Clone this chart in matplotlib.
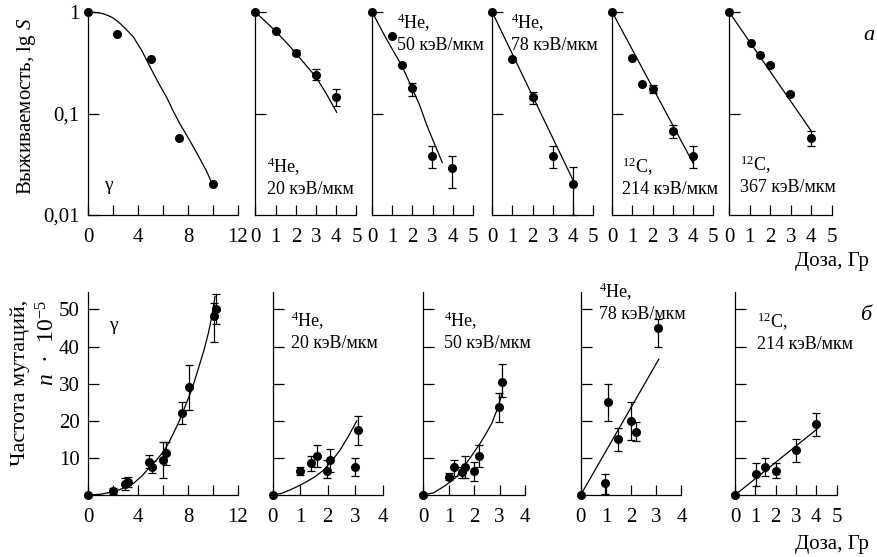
import matplotlib.pyplot as plt
import numpy as np

plt.rcParams['font.family'] = ['Liberation Serif', 'DejaVu Serif']
plt.rcParams['mathtext.fontset'] = 'custom'
plt.rcParams['mathtext.rm'] = 'Liberation Serif'
plt.rcParams['mathtext.it'] = 'Liberation Serif:italic'

nan = np.nan

# ---- top row: survival (lg S) vs dose ----
s_gamma_x = [0, 2.3, 5.0, 7.3, 10.0]
s_gamma_y = [1, 0.615, 0.343, 0.058, 0.020]
s_gamma_lo = [nan] * 5
s_gamma_hi = [nan] * 5
s_gamma_fx = [0, 0.4, 0.8, 1.2, 1.6, 2.0, 2.5, 3.0, 3.63, 4.3, 4.96, 5.6, 6.29, 6.8, 7.36, 7.9, 8.43, 9.0, 9.49, 10.03]
s_gamma_fy = [1, 0.999, 0.99, 0.97, 0.93, 0.88, 0.79, 0.69, 0.57, 0.42, 0.29, 0.205, 0.145, 0.107, 0.079, 0.061, 0.047, 0.035, 0.027, 0.019]

s_he20_x = [0, 1, 2, 3, 4]
s_he20_y = [1, 0.65, 0.395, 0.243, 0.147]
s_he20_lo = [nan, nan, 0.375, 0.217, 0.118]
s_he20_hi = [nan, nan, 0.42, 0.277, 0.176]
s_he20_fx = [0, 0.5, 1, 1.5, 2, 2.5, 3, 3.5, 4.02]
s_he20_fy = [1, 0.81, 0.65, 0.51, 0.395, 0.30, 0.229, 0.158, 0.103]

s_he50_x = [0, 1.0, 1.46, 1.96, 2.95, 3.98]
s_he50_y = [1, 0.59, 0.30, 0.179, 0.038, 0.029]
s_he50_lo = [nan, nan, nan, 0.148, 0.029, 0.0185]
s_he50_hi = [nan, nan, nan, 0.201, 0.048, 0.038]
s_he50_fx = [0, 0.3, 0.63, 1.0, 1.46, 1.96, 2.35, 2.72, 3.1, 3.48]
s_he50_fy = [1, 0.77, 0.58, 0.43, 0.299, 0.182, 0.122, 0.076, 0.05, 0.033]

s_he78_x = [0, 1, 2, 3, 4]
s_he78_y = [1, 0.343, 0.145, 0.038, 0.020]
s_he78_lo = [nan, nan, 0.125, 0.029, 0.0101]
s_he78_hi = [nan, nan, 0.165, 0.0475, 0.030]
s_he78_fx = [0, 4.06]
s_he78_fy = [1, 0.021]

s_c214_x = [0, 1.0, 1.49, 2.0, 3.0, 4.03]
s_c214_y = [1, 0.356, 0.197, 0.175, 0.068, 0.038]
s_c214_lo = [nan, nan, nan, 0.16, 0.058, 0.029]
s_c214_hi = [nan, nan, nan, 0.19, 0.077, 0.048]
s_c214_fx = [0, 4.03]
s_c214_fy = [1, 0.032]

s_c367_x = [0, 1.04, 1.51, 2.0, 2.96, 3.99]
s_c367_y = [1, 0.497, 0.375, 0.303, 0.157, 0.058]
s_c367_lo = [nan, nan, nan, 0.29, 0.15, 0.048]
s_c367_hi = [nan, nan, nan, 0.315, 0.165, 0.068]
s_c367_fx = [0, 3.99]
s_c367_fy = [1, 0.068]

# ---- bottom row: mutation frequency, n*1e-5 ----
m_gamma_x = [0, 2.03, 3.0, 3.2, 4.88, 5.1, 6.03, 6.25, 7.55, 8.08, 10.05, 10.27]
m_gamma_y = [0, 1.1, 3.0, 3.5, 9.0, 7.6, 9.4, 11.4, 22.0, 29.0, 48.2, 50.1]
m_gamma_lo = [nan, 0.4, 1.4, 2.2, 7.2, 5.8, 4.5, 8.1, 19.1, 22.9, 41.3, 46.0]
m_gamma_hi = [nan, 1.8, 4.6, 4.9, 10.8, 9.2, 14.4, 14.4, 25.0, 35.0, 51.7, 54.2]
m_gamma_fx = [0, 1.0, 2.03, 2.8, 3.63, 4.3, 4.96, 5.5, 6.03, 6.45, 6.83, 7.2, 7.55, 7.9, 8.29, 8.6, 8.96, 9.3, 9.63, 9.9, 10.16]
m_gamma_fy = [0, 0.2, 0.9, 1.8, 3.1, 5.1, 7.6, 9.5, 11.7, 14.0, 16.6, 19.2, 22.0, 25.0, 28.3, 31.6, 35.5, 39.3, 43.6, 48.0, 53.5]

m_he20_x = [0, 0.99, 1.38, 1.6, 1.99, 2.08, 3.0, 3.09]
m_he20_y = [0, 6.5, 8.5, 10.6, 6.6, 9.4, 7.5, 17.5]
m_he20_lo = [nan, 5.4, 6.6, 7.6, 4.5, 6.3, 5.2, 13.5]
m_he20_hi = [nan, 7.6, 10.5, 13.4, 9.4, 12.4, 10.0, 21.4]
m_he20_fx = [0, 0.3, 0.63, 0.93, 1.24, 1.55, 1.85, 2.15, 2.45, 2.75, 3.06]
m_he20_fy = [0, 0.4, 1.35, 2.4, 3.6, 5.0, 6.7, 9.2, 12.1, 15.8, 20.0]

m_he50_x = [0, 1.02, 1.21, 1.5, 1.63, 2.0, 2.2, 2.98, 3.1]
m_he50_y = [0, 4.9, 7.6, 6.1, 7.6, 6.6, 10.6, 23.6, 30.5]
m_he50_lo = [nan, 4.0, 5.0, 4.5, 4.5, 3.9, 7.6, 19.6, 26.5]
m_he50_hi = [nan, 6.0, 9.4, 7.6, 10.5, 9.0, 13.4, 27.6, 35.3]
m_he50_fx = [0, 0.4, 0.78, 1.05, 1.3, 1.5, 1.68, 1.95, 2.23, 2.45, 2.69, 2.9, 3.1]
m_he50_fy = [0, 0.6, 2.2, 3.5, 4.9, 6.6, 8.5, 11.1, 13.9, 16.4, 19.3, 23.0, 27.4]

m_he78_x = [0, 0.96, 1.07, 1.49, 2.0, 2.19, 3.07]
m_he78_y = [0, 3.1, 25.0, 15.0, 20.0, 17.1, 45.1]
m_he78_lo = [nan, 0.3, 20.0, 11.9, 14.8, 14.6, 39.9]
m_he78_hi = [nan, 5.7, 30.0, 18.0, 25.0, 19.8, 47.3]
m_he78_fx = [0, 3.1]
m_he78_fy = [0, 36.6]

m_c214_x = [0, 1.03, 1.49, 2.02, 3.0, 4.0]
m_c214_y = [0, 5.6, 7.6, 6.6, 12.1, 19.0]
m_c214_lo = [nan, 2.4, 5.0, 4.5, 9.0, 16.0]
m_c214_hi = [nan, 8.6, 10.1, 8.6, 15.0, 22.0]
m_c214_fx = [0, 4.02]
m_c214_fy = [0, 17.7]

W, H = 878, 557
fig = plt.figure(figsize=(W / 100, H / 100), dpi=100)


def px_axes(x0, x1, y0, y1):
    return fig.add_axes([x0 / W, 1 - y1 / H, (x1 - x0) / W, (y1 - y0) / H])


def ftext(x, y, s, **kw):
    fig.text(x / W, 1 - y / H, s, **kw)


def draw(ax, x, y, lo, hi, fx, fy):
    x = np.array(x); y = np.array(y); lo = np.array(lo); hi = np.array(hi)
    ok = ~np.isnan(lo)
    ax.errorbar(x[ok], y[ok], yerr=[y[ok] - lo[ok], hi[ok] - y[ok]], fmt='none',
                ecolor='black', elinewidth=0.9, capsize=3, capthick=0.9, clip_on=False)
    ax.plot(fx, fy, color='black', lw=0.9, clip_on=False)
    ax.plot(x, y, 'o', color='black', ms=5.5, clip_on=False, zorder=5)


def style(ax):
    for s in ['top', 'right']:
        ax.spines[s].set_visible(False)
    for s in ['left', 'bottom']:
        ax.spines[s].set_linewidth(0.9)
    ax.tick_params(direction='in', labelsize=15, width=0.9)
    ax.tick_params(axis='y', length=8, pad=6)
    ax.tick_params(axis='x', length=7, pad=9)
    ax.patch.set_alpha(0)


# top row
top_boxes = [(88, 238), (255.5, 356.5), (372.3, 472.8), (492.3, 593), (612.3, 713), (729.3, 831.7)]
top_data = [
    (s_gamma_x, s_gamma_y, s_gamma_lo, s_gamma_hi, s_gamma_fx, s_gamma_fy),
    (s_he20_x, s_he20_y, s_he20_lo, s_he20_hi, s_he20_fx, s_he20_fy),
    (s_he50_x, s_he50_y, s_he50_lo, s_he50_hi, s_he50_fx, s_he50_fy),
    (s_he78_x, s_he78_y, s_he78_lo, s_he78_hi, s_he78_fx, s_he78_fy),
    (s_c214_x, s_c214_y, s_c214_lo, s_c214_hi, s_c214_fx, s_c214_fy),
    (s_c367_x, s_c367_y, s_c367_lo, s_c367_hi, s_c367_fx, s_c367_fy),
]
for i, ((x0, x1), d) in enumerate(zip(top_boxes, top_data)):
    ax = px_axes(x0, x1, 12.3, 215)
    ax.set_yscale('log')
    ax.set_ylim(0.01, 1)
    ax.yaxis.set_minor_locator(plt.NullLocator())
    style(ax)
    if i == 0:
        ax.set_xlim(0, 12)
        ax.set_xticks(np.arange(0, 13, 2))
        ax.set_xticklabels(['0', '', '4', '', '8', '', '12'])
        ax.set_yticks([0.01, 0.1, 1])
        ax.set_yticklabels(['0,01', '0,1', '1'])
    else:
        ax.set_xlim(0, 5)
        ax.set_xticks(range(6))
        ax.set_yticks([0.1, 1])
        ax.set_yticklabels([])
    draw(ax, *d)

# bottom row
bot_boxes = [(88, 238, 12), (272.7, 382.7, 4), (423.5, 525, 4), (580.7, 681.5, 4), (735, 836.7, 5)]
bot_data = [
    (m_gamma_x, m_gamma_y, m_gamma_lo, m_gamma_hi, m_gamma_fx, m_gamma_fy),
    (m_he20_x, m_he20_y, m_he20_lo, m_he20_hi, m_he20_fx, m_he20_fy),
    (m_he50_x, m_he50_y, m_he50_lo, m_he50_hi, m_he50_fx, m_he50_fy),
    (m_he78_x, m_he78_y, m_he78_lo, m_he78_hi, m_he78_fx, m_he78_fy),
    (m_c214_x, m_c214_y, m_c214_lo, m_c214_hi, m_c214_fx, m_c214_fy),
]
for i, ((x0, x1, xm), d) in enumerate(zip(bot_boxes, bot_data)):
    ax = px_axes(x0, x1, 292, 495)
    ax.set_ylim(0, 54.7)
    ax.set_xlim(0, xm)
    style(ax)
    ax.set_yticks([10, 20, 30, 40, 50])
    if i == 0:
        ax.set_xticks(np.arange(0, 13, 2))
        ax.set_xticklabels(['0', '', '4', '', '8', '', '12'])
    else:
        ax.set_xticks(range(xm + 1))
        ax.set_yticklabels([])
    draw(ax, *d)

# panel labels
fs = 13
ls = 1.2
ftext(104, 185, 'γ', fontsize=14, va='center')
ftext(267, 177, '$^{4}$He,\n20 кэВ/мкм', fontsize=fs, va='center', linespacing=ls)
ftext(397, 33, '$^{4}$He,\n50 кэВ/мкм', fontsize=fs, va='center', linespacing=ls)
ftext(511, 33, '$^{4}$He,\n78 кэВ/мкм', fontsize=fs, va='center', linespacing=ls)
ftext(622, 177, '$^{12}$C,\n214 кэВ/мкм', fontsize=fs, va='center', linespacing=ls)
ftext(740, 175, '$^{12}$C,\n367 кэВ/мкм', fontsize=fs, va='center', linespacing=ls)

ftext(109, 326, 'γ', fontsize=14, va='center')
ftext(291, 331, '$^{4}$He,\n20 кэВ/мкм', fontsize=fs, va='center', linespacing=ls)
ftext(444, 331, '$^{4}$He,\n50 кэВ/мкм', fontsize=fs, va='center', linespacing=ls)
ftext(599, 302, '$^{4}$He,\n78 кэВ/мкм', fontsize=fs, va='center', linespacing=ls)
ftext(757, 332, '$^{12}$C,\n214 кэВ/мкм', fontsize=fs, va='center', linespacing=ls)

ftext(869, 35, 'а', fontsize=16, style='italic', ha='center', va='center')
ftext(866, 315, 'б', fontsize=16, style='italic', ha='center', va='center')

# axis titles
ftext(27, 106, 'Выживаемость, lg $S$', fontsize=15, rotation=90, ha='center', va='center')
ftext(20, 300, 'Частота мутаций,', fontsize=16, rotation=90, ha='right', va='center',
      rotation_mode='anchor')
ftext(48, 300, '$n$  ·  10$^{-5}$', fontsize=17, rotation=90, ha='right', va='center',
      rotation_mode='anchor')
ftext(832, 262, 'Доза, Гр', fontsize=15, ha='center', va='center')
ftext(832, 545, 'Доза, Гр', fontsize=15, ha='center', va='center')

fig.savefig('out.png', dpi=100)
